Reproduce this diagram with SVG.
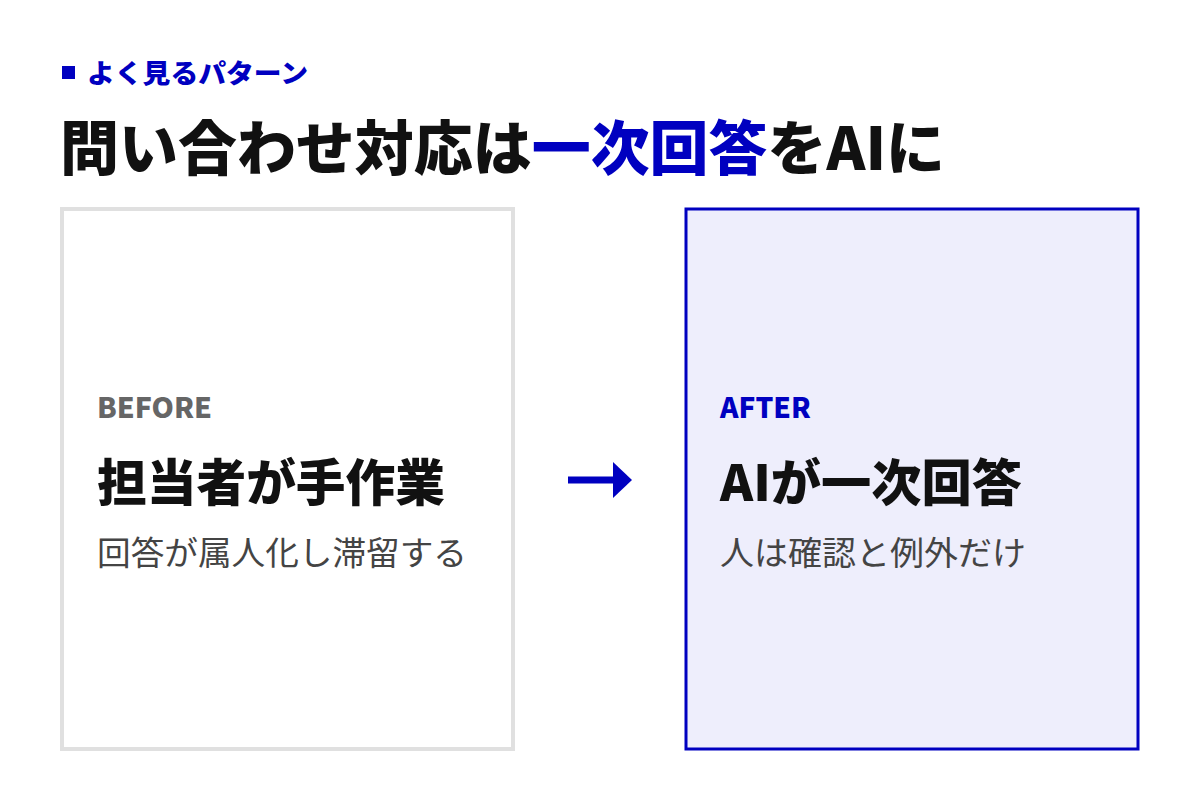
<svg xmlns="http://www.w3.org/2000/svg" width="1200" height="800" viewBox="0 0 1200 800">
<style>
text{font-family:"Noto Sans CJK JP","Noto Sans",sans-serif;}
.b{font-weight:900}
.blue{fill:#0000c0}
</style>
<rect width="1200" height="800" fill="#fff"/>
<g id="header">
<rect x="62" y="66" width="13" height="13" fill="#0000c0"/>
<text x="87" y="83" font-size="26" class="b blue" textLength="221" lengthAdjust="spacingAndGlyphs">よく見るパターン</text>
<text x="60" y="170" font-size="59" class="b" fill="#111" textLength="885" lengthAdjust="spacingAndGlyphs">問い合わせ対応は<tspan class="blue">一次回答</tspan>をAIに</text>
</g>
<g id="before">
<rect x="62" y="209" width="451" height="540" fill="#fff" stroke="#e0e0e0" stroke-width="4"/>
<text x="97" y="418" font-size="28" class="b" fill="#666" textLength="115" lengthAdjust="spacingAndGlyphs">BEFORE</text>
<text x="97" y="501" font-size="50" class="b" fill="#111" textLength="348" lengthAdjust="spacingAndGlyphs">担当者が手作業</text>
<text x="97" y="565" font-size="33" fill="#444" textLength="370" lengthAdjust="spacingAndGlyphs">回答が属人化し滞留する</text>
</g>
<g id="after">
<rect x="686" y="209" width="452" height="540" fill="#eeeefc" stroke="#0000c0" stroke-width="3"/>
<text x="720" y="418" font-size="28" class="b blue">AFTER</text>
<text x="720" y="501" font-size="50" class="b" fill="#111" textLength="302" lengthAdjust="spacingAndGlyphs">AIが一次回答</text>
<text x="720" y="565" font-size="33" fill="#444" textLength="306" lengthAdjust="spacingAndGlyphs">人は確認と例外だけ</text>
</g>
<g id="connectors">
<line x1="568" y1="480" x2="616" y2="480" stroke="#0000c0" stroke-width="7"/>
<polygon points="613,462 632,480 613,498" fill="#0000c0"/>
</g>
</svg>
